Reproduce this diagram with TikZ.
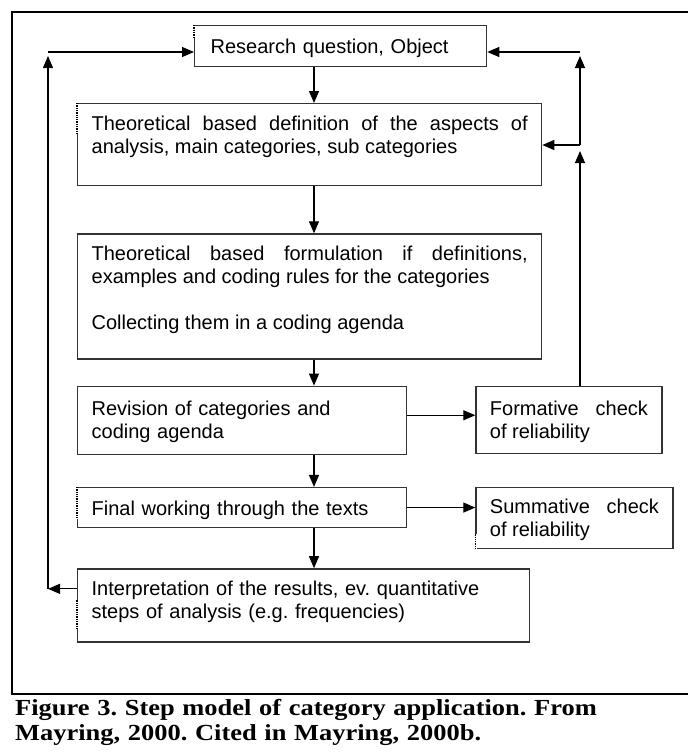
\documentclass[tikz,border=0pt]{standalone}
\usepackage{fontspec}
\setmainfont{Liberation Sans}
\newfontfamily\captionfont{Liberation Serif}[FakeStretch=1.15]
\usetikzlibrary{shapes,arrows.meta,positioning,calc}

\begin{document}
\frenchspacing
\begin{tikzpicture}[x=1pt, y=-1pt, >={Triangle[length=12pt,width=10pt]},
  every node/.style={font=\fontsize{20}{23}\selectfont},
  stage/.style={rectangle, draw=black!80, line width=1.3pt, inner xsep=14pt, inner ysep=0pt},
  link/.style={->, line width=1.2pt},
  gap/.style={white, line width=2.6pt},
  dots/.style={densely dotted, line width=1.3pt}]

\useasboundingbox[fill=white] (0,0) rectangle (688,753);

\node[stage, anchor=north west, inner xsep=16pt, text width=260pt, align=left, text height=27.5pt, text depth=13.5pt] (rq) at (194,25) {Research question, Object};
\node[stage, anchor=north west, text width=436pt, align=justify, text height=27pt, text depth=55pt] (def) at (77,103) {Theoretical based definition of the aspects of\linebreak analysis, main categories, sub categories};
\node[stage, below=47pt of def.south west, anchor=north west, text width=436pt, align=justify, text height=27pt, text depth=98pt] (form) {Theoretical based formulation if definitions,\linebreak examples and coding rules for the categories\par\vspace{23pt}Collecting them in a coding agenda};
\node[stage, below=26pt of form.south west, anchor=north west, text width=301pt, align=left, text height=29pt, text depth=39pt] (rev) {Revision of categories and\\coding agenda};
\node[stage, right=68pt of rev.north east, anchor=north west, text width=158pt, align=justify, text height=29pt, text depth=38pt] (formative) {Formative check\linebreak of reliability};
\node[stage, below=32pt of rev.south west, anchor=north west, text width=301pt, align=left, text height=28pt, text depth=12pt] (final) {Final working through the texts};
\node[stage, right=68pt of final.north east, anchor=north west, text width=169pt, align=justify, text height=26pt, text depth=35pt] (summative) {Summative check\linebreak of reliability};
\node[stage, below=40pt of final.south west, anchor=north west, text width=424pt, align=left, text height=27pt, text depth=46pt] (interp) {Interpretation of the results, ev. quantitative\\steps of analysis (e.g. frequencies)};

% broken left edges
\draw[gap] (rq.north west) -- ++(0,-12pt);
\draw[dots] (rq.north west) -- ++(0,-12pt);
\draw[gap] (def.north west) -- ++(0,-30pt);
\draw[dots] (def.north west) -- ++(0,-30pt);
\draw[gap] (final.north west) -- ++(0,-32pt);
\draw[dots] (final.north west) -- ++(0,-32pt);
\draw[gap] ([yshift=15pt]summative.south west) -- (summative.south west);
\draw[dots] ([yshift=15pt]summative.south west) -- (summative.south west);
\draw[gap] ([yshift=-32pt]interp.north west) -- ++(0,-28pt);
\draw[dots] ([yshift=-32pt]interp.north west) -- ++(0,-28pt);

\coordinate (spine) at (314,0);
\coordinate (leftrun) at (48,52);
\coordinate (rightrun) at (580,52);
\coordinate (branch) at (580,145);

% main flow
\draw[link] (rq.south -| spine) -- (def.north -| spine);
\draw[link] (def.south -| spine) -- (form.north -| spine);
\draw[link] (form.south -| spine) -- (rev.north -| spine);
\draw[link] (rev.south -| spine) -- (final.north -| spine);
\draw[link] (final.south -| spine) -- (interp.north -| spine);
\draw[link] ([yshift=5pt]rev.east) -- ([yshift=5pt]rev.east -| formative.west);
\draw[link] (final.east) -- (final.east -| summative.west);

% feedback left
\draw[link] ([yshift=16.5pt]interp.west) -- ([yshift=16.5pt]interp.west -| leftrun);
\draw[link] ([yshift=16.5pt]interp.west -| leftrun) -- ([yshift=-4pt]leftrun);
\draw[link] (leftrun) -- (leftrun -| rq.west);

% feedback right
\draw[link] (formative.north -| branch) -- ([yshift=-6pt]branch);
\draw[link] (branch) -- (branch -| def.east);
\draw[link] (branch) -- ([yshift=-4pt]rightrun);
\draw[link] (rightrun) -- (rightrun -| rq.east);

% frame and caption
\draw[line width=2pt] (692,12) -| (12,694) -- (692,694);
\node[anchor=base west, inner sep=0pt, text width=660pt, align=left, font=\captionfont\bfseries\fontsize{23}{25}\selectfont] (caption) at (15,715) {Figure 3. Step model of category application. From\\Mayring, 2000. Cited in Mayring, 2000b.};

\end{tikzpicture}
\end{document}
